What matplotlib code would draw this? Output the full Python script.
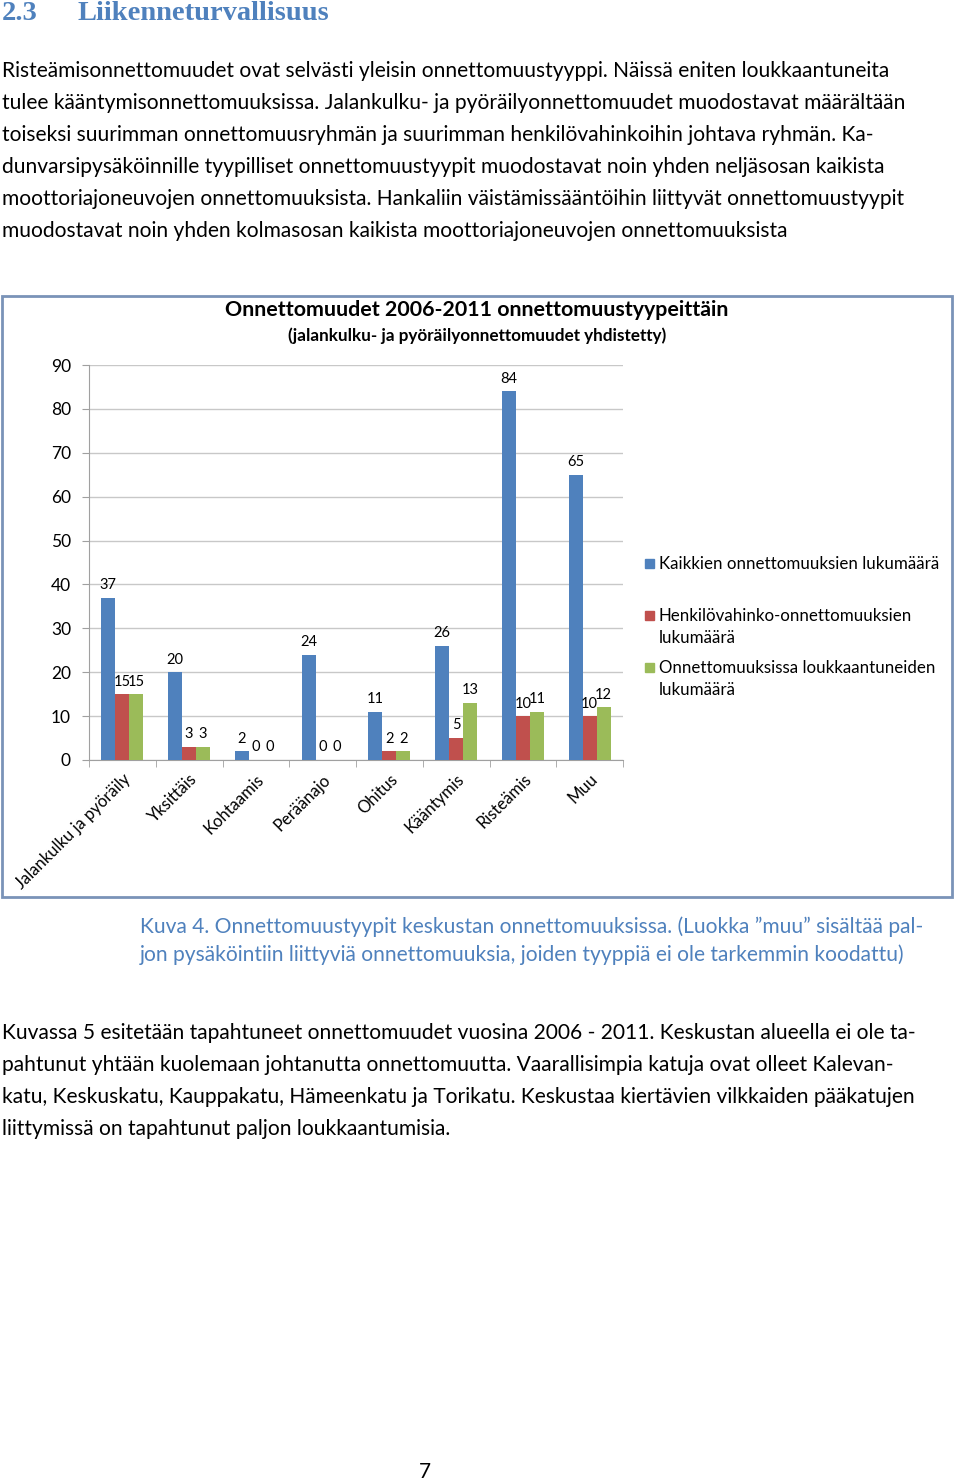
import numpy as np
import matplotlib
matplotlib.use("Agg")
import matplotlib.pyplot as plt
from matplotlib.patches import Rectangle

# data
categories = ["Jalankulku ja pyöräily", "Yksittäis", "Kohtaamis", "Peräänajo",
              "Ohitus", "Kääntymis", "Risteämis", "Muu"]
kaikki = [37, 20, 2, 24, 11, 26, 84, 65]
henkilovahinko = [15, 3, 0, 0, 2, 5, 10, 10]
loukkaantuneet = [15, 3, 0, 0, 2, 13, 11, 12]
series_names = ["Kaikkien onnettomuuksien lukumäärä",
                "Henkilövahinko-onnettomuuksien\nlukumäärä",
                "Onnettomuuksissa loukkaantuneiden\nlukumäärä"]
yticks = [0, 10, 20, 30, 40, 50, 60, 70, 80, 90]

blue, red, green = "#4F81BD", "#C0504D", "#9BBB59"
head_blue = "#4F81BD"
W, H = 960, 1483
FONT = "Lato"


def fx(x):
    return x / W


def fy(y):
    return 1 - y / H


fig = plt.figure(figsize=(9.6, 14.83), dpi=100)

# otsikko
fig.text(fx(2), fy(14), "2.3", fontsize=20.5, fontweight="bold",
         family="Liberation Serif", color=head_blue, va="center")
fig.text(fx(77), fy(14), "Liikenneturvallisuus", fontsize=20.5, fontweight="bold",
         family="Liberation Serif", color=head_blue, va="center")

body1 = [
    "Risteämisonnettomuudet ovat selvästi yleisin onnettomuustyyppi. Näissä eniten loukkaantuneita",
    "tulee kääntymisonnettomuuksissa. Jalankulku- ja pyöräilyonnettomuudet muodostavat määrältään",
    "toiseksi suurimman onnettomuusryhmän ja suurimman henkilövahinkoihin johtava ryhmän. Ka-",
    "dunvarsipysäköinnille tyypilliset onnettomuustyypit muodostavat noin yhden neljäsosan kaikista",
    "moottoriajoneuvojen onnettomuuksista. Hankaliin väistämissääntöihin liittyvät onnettomuustyypit",
    "muodostavat noin yhden kolmasosan kaikista moottoriajoneuvojen onnettomuuksista",
]
for i, line in enumerate(body1):
    fig.text(fx(2), fy(71 + 32 * i), line, fontsize=15.1, family=FONT,
             color="black", va="center")

caption = [
    "Kuva 4. Onnettomuustyypit keskustan onnettomuuksissa. (Luokka ”muu” sisältää pal-",
    "jon pysäköintiin liittyviä onnettomuuksia, joiden tyyppiä ei ole tarkemmin koodattu)",
]
for i, line in enumerate(caption):
    fig.text(fx(140), fy(927 + 28 * i), line, fontsize=15.1, family=FONT,
             color=head_blue, va="center")

body2 = [
    "Kuvassa 5 esitetään tapahtuneet onnettomuudet vuosina 2006 - 2011. Keskustan alueella ei ole ta-",
    "pahtunut yhtään kuolemaan johtanutta onnettomuutta. Vaarallisimpia katuja ovat olleet Kalevan-",
    "katu, Keskuskatu, Kauppakatu, Hämeenkatu ja Torikatu. Keskustaa kiertävien vilkkaiden pääkatujen",
    "liittymissä on tapahtunut paljon loukkaantumisia.",
]
for i, line in enumerate(body2):
    fig.text(fx(2), fy(1033 + 32 * i), line, fontsize=15.1, family=FONT,
             color="black", va="center")

fig.text(fx(425), fy(1472), "7", fontsize=15, family=FONT, ha="center", va="center")

# kaavion kehys
fig.patches.append(Rectangle((fx(2), fy(897)), fx(950), (897 - 296) / H,
                             transform=fig.transFigure, fill=False,
                             edgecolor="#7A93B8", lw=2))

fig.text(fx(477), fy(310), "Onnettomuudet 2006-2011 onnettomuustyypeittäin",
         fontsize=15.4, fontweight="bold", family=FONT, ha="center", va="center")
fig.text(fx(477), fy(336), "(jalankulku- ja pyöräilyonnettomuudet yhdistetty)",
         fontsize=12.3, fontweight="bold", family=FONT, ha="center", va="center")

ax = fig.add_axes([fx(89), fy(760), (623 - 89) / W, (760 - 365) / H])
x = np.arange(len(categories))
w = 0.21
for off, vals, col in [(-w, kaikki, blue), (0, henkilovahinko, red), (w, loukkaantuneet, green)]:
    ax.bar(x + off, vals, w, color=col, zorder=3)
    for xi, v in zip(x + off, vals):
        ax.annotate(str(v), (xi, v), xytext=(0, 4), textcoords="offset points",
                    ha="center", va="bottom", fontsize=10.5, family=FONT)

ax.set_xlim(-0.5, len(categories) - 0.5)
ax.set_ylim(0, 90)
ax.set_yticks(yticks)
ax.set_yticklabels([str(t) for t in yticks], fontsize=12.5, family=FONT)
ax.yaxis.grid(True, color="#C8C8C8", lw=1, zorder=0)
ax.set_xticks(x)
ax.set_xticklabels(categories, rotation=45, ha="right", va="top",
                   rotation_mode="anchor", fontsize=12, family=FONT)
ax.set_xticks(np.arange(-0.5, len(categories)), minor=True)
ax.tick_params(axis="x", which="major", length=0, pad=8)
ax.tick_params(axis="x", which="minor", length=5, color="#A0A0A0")
ax.tick_params(axis="y", length=5, color="#A0A0A0", pad=8)
for s in ["top", "right"]:
    ax.spines[s].set_visible(False)
for s in ["left", "bottom"]:
    ax.spines[s].set_color("#A0A0A0")

# selite
for ty, name, col in [(564, series_names[0], blue), (627, series_names[1], red),
                      (679, series_names[2], green)]:
    sy = ty - 11 if "\n" in name else ty
    fig.patches.append(Rectangle((fx(645), fy(sy + 4)), 9 / W, 9 / H,
                                 transform=fig.transFigure, color=col))
    fig.text(fx(659), fy(ty), name, fontsize=12.2, family=FONT, va="center",
             linespacing=1.45)

fig.savefig("out.png", dpi=100)
